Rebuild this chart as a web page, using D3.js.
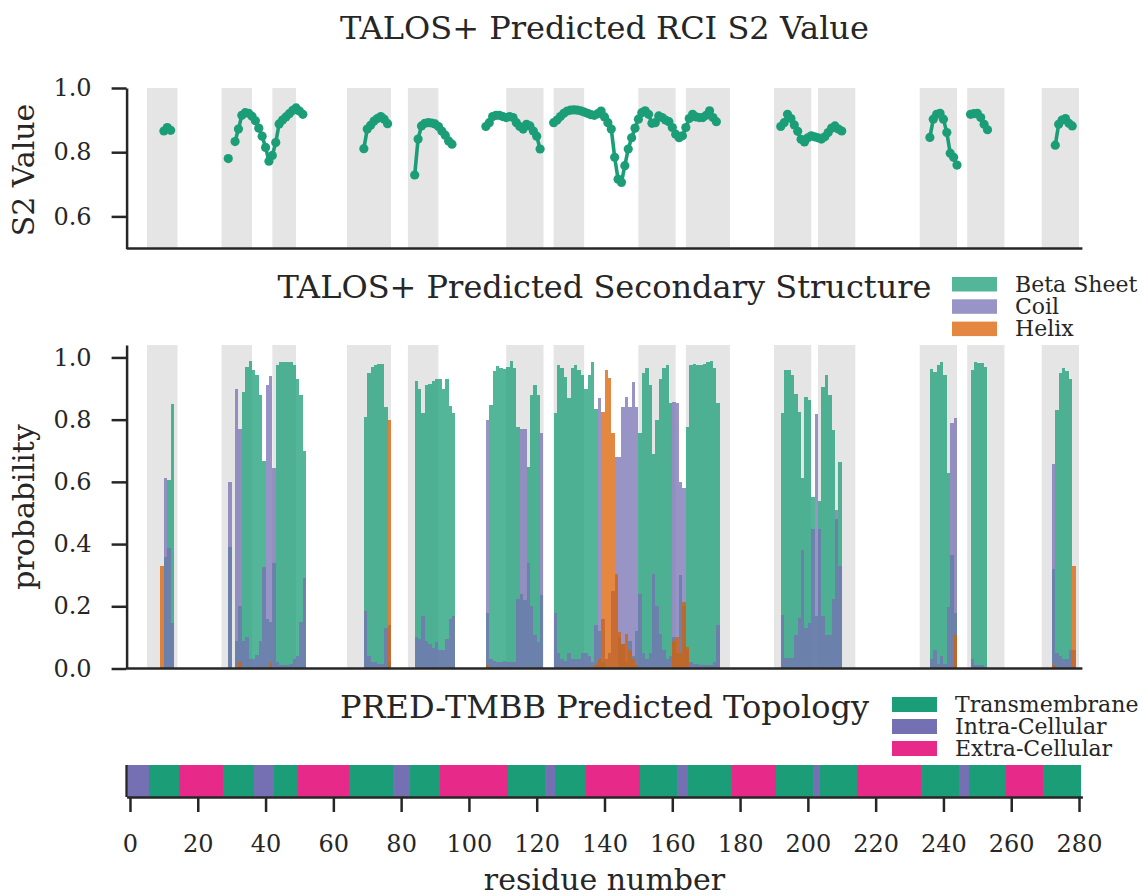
<!DOCTYPE html>
<html>
<head>
<meta charset="utf-8">
<script src="https://cdn.jsdelivr.net/npm/d3@7"></script>
<style>
  html, body { margin: 0; padding: 0; background: #ffffff; }
  svg { display: block; }
  text { font-family: "DejaVu Serif", serif; fill: #262626; }
</style>
</head>
<body>
<svg id="chart" width="1143" height="896"></svg>
<script>
// ---- TALOS+ order parameter (RCI S2) per residue ----
const s2Residue = [
  10, 11, 12,
  29,
  31, 32, 33, 34, 35, 36, 37, 38, 39, 40, 41, 42, 43, 44, 45, 46, 47, 48, 49, 50, 51,
  69, 70, 71, 72, 73, 74, 75, 76,
  84, 85, 86, 87, 88, 89, 90, 91, 92, 93, 94, 95,
  105, 106, 107, 108, 109, 110, 111, 112, 113, 114, 115, 116, 117, 118, 119, 120, 121,
  125, 126, 127, 128, 129, 130, 131, 132, 133, 134, 135, 136, 137, 138, 139, 140, 141, 142, 143, 144,
  145, 146, 147, 148, 149, 150, 151, 152, 153, 154, 155, 156, 157, 158, 159, 160, 161, 162, 163, 164,
  165, 166, 167, 168, 169, 170, 171, 172, 173,
  192, 193, 194, 195, 196, 197, 198, 199, 200, 201, 202, 203, 204, 205, 206, 207, 208, 209, 210,
  236, 237, 238, 239, 240, 241, 242, 243, 244,
  248, 249, 250, 251, 252, 253,
  273, 274, 275, 276, 277, 278
];
const s2Value = [
  0.866, 0.877, 0.868,
  0.780,
  0.833, 0.872, 0.915, 0.923, 0.921, 0.912, 0.898, 0.875, 0.850, 0.815, 0.772, 0.790, 0.830, 0.888, 0.900, 0.910, 0.920, 0.930, 0.938, 0.928, 0.918,
  0.811, 0.872, 0.884, 0.897, 0.905, 0.911, 0.903, 0.889,
  0.729, 0.841, 0.882, 0.890, 0.892, 0.891, 0.888, 0.880, 0.866, 0.853, 0.835, 0.825,
  0.880, 0.892, 0.911, 0.915, 0.915, 0.911, 0.908, 0.911, 0.908, 0.892, 0.880, 0.872, 0.887, 0.882, 0.866, 0.850, 0.810,
  0.892, 0.900, 0.911, 0.921, 0.928, 0.931, 0.932, 0.931, 0.929, 0.925, 0.921, 0.917, 0.915, 0.920, 0.928, 0.910, 0.892, 0.872, 0.784, 0.716,
  0.706, 0.758, 0.810, 0.845, 0.875, 0.903, 0.923, 0.929, 0.918, 0.890, 0.892, 0.913, 0.908, 0.900, 0.895, 0.877, 0.856, 0.845, 0.851, 0.877,
  0.905, 0.918, 0.910, 0.908, 0.908, 0.915, 0.929, 0.908, 0.895,
  0.880, 0.892, 0.918, 0.905, 0.885, 0.865, 0.840, 0.832, 0.845, 0.851, 0.848, 0.845, 0.841, 0.848, 0.861, 0.875, 0.882, 0.872, 0.866,
  0.846, 0.903, 0.918, 0.921, 0.903, 0.861, 0.797, 0.784, 0.760,
  0.918, 0.920, 0.921, 0.908, 0.887, 0.870,
  0.822, 0.887, 0.900, 0.905, 0.890, 0.882
];

// ---- TALOS+ secondary structure probabilities per residue ----
const ssResidue = [
  9, 10, 11, 12,
  29, 31, 32, 33, 34, 35, 36, 37, 38, 39, 40, 41, 42, 43, 44, 45, 46, 47, 48, 49, 50, 51,
  69, 70, 71, 72, 73, 74, 75, 76,
  84, 85, 86, 87, 88, 89, 90, 91, 92, 93, 94, 95,
  105, 106, 107, 108, 109, 110, 111, 112, 113, 114, 115, 116, 117, 118, 119, 120, 121,
  125, 126, 127, 128, 129, 130, 131, 132, 133, 134, 135, 136, 137, 138, 139, 140, 141, 142, 143, 144,
  145, 146, 147, 148, 149, 150, 151, 152, 153, 154, 155, 156, 157, 158, 159, 160, 161, 162, 163, 164,
  165, 166, 167, 168, 169, 170, 171, 172, 173,
  192, 193, 194, 195, 196, 197, 198, 199, 200, 201, 202, 203, 204, 205, 206, 207, 208, 209,
  236, 237, 238, 239, 240, 241, 242, 243,
  248, 249, 250, 251, 252,
  272, 273, 274, 275, 276, 277, 278
];
const betaProb = [
  0.00, 0.36, 0.607, 0.85,
  0.39, 0.09, 0.20, 0.89, 0.97, 0.988, 0.96, 0.945, 0.88, 0.667, 0.16, 0.15, 0.34, 0.977, 0.986, 0.986, 0.986, 0.985, 0.975, 0.93, 0.88, 0.70,
  0.81, 0.95, 0.97, 0.975, 0.98, 0.98, 0.84, 0.02,
  0.925, 0.90, 0.82, 0.91, 0.915, 0.925, 0.932, 0.93, 0.90, 0.93, 0.845, 0.82,
  0.18, 0.847, 0.955, 0.973, 0.967, 0.962, 0.97, 0.988, 0.965, 0.775, 0.24, 0.22, 0.648, 0.88, 0.913, 0.88, 0.236,
  0.82, 0.975, 0.967, 0.938, 0.87, 0.967, 0.977, 0.96, 0.945, 0.90, 0.945, 0.984, 0.834, 0.12, 0.02, 0.00, 0.00, 0.00, 0.00, 0.10,
  0.08, 0.02, 0.09, 0.04, 0.12, 0.756, 0.949, 0.965, 0.91, 0.69, 0.80, 0.932, 0.965, 0.977, 0.852, 0.10, 0.05, 0.30, 0.20, 0.777,
  0.975, 0.98, 0.977, 0.977, 0.98, 0.985, 0.988, 0.967, 0.852,
  0.822, 0.959, 0.959, 0.943, 0.881, 0.825, 0.611, 0.873, 0.863, 0.55, 0.17, 0.54, 0.906, 0.943, 0.879, 0.766, 0.482, 0.665,
  0.962, 0.952, 0.977, 0.986, 0.945, 0.627, 0.364, 0.18,
  0.959, 0.984, 0.982, 0.982, 0.97,
  0.32, 0.83, 0.949, 0.967, 0.956, 0.932, 0.00
];
const coilProb = [
  0.00, 0.613, 0.386, 0.145,
  0.60, 0.897, 0.77, 0.09, 0.10, 0.03, 0.03, 0.045, 0.09, 0.327, 0.91, 0.94, 0.645, 0.02, 0.01, 0.01, 0.01, 0.015, 0.03, 0.04, 0.15, 0.29,
  0.185, 0.04, 0.02, 0.02, 0.015, 0.015, 0.13, 0.14,
  0.10, 0.095, 0.17, 0.09, 0.08, 0.065, 0.085, 0.06, 0.06, 0.095, 0.16, 0.17,
  0.80, 0.03, 0.025, 0.02, 0.02, 0.025, 0.02, 0.02, 0.02, 0.225, 0.77, 0.77, 0.34, 0.20, 0.107, 0.086, 0.756,
  0.18, 0.05, 0.03, 0.025, 0.05, 0.03, 0.03, 0.03, 0.05, 0.05, 0.04, 0.02, 0.14, 0.87, 0.16, 0.03, 0.05, 0.25, 0.68, 0.68,
  0.84, 0.873, 0.84, 0.92, 0.84, 0.24, 0.05, 0.03, 0.05, 0.305, 0.20, 0.11, 0.06, 0.03, 0.04, 0.857, 0.852, 0.60, 0.58, 0.06,
  0.02, 0.015, 0.015, 0.01, 0.01, 0.01, 0.01, 0.02, 0.14,
  0.171, 0.034, 0.034, 0.034, 0.107, 0.163, 0.38, 0.129, 0.145, 0.45, 0.817, 0.45, 0.17, 0.107, 0.107, 0.225, 0.509, 0.33,
  0.032, 0.06, 0.016, 0.04, 0.016, 0.198, 0.788, 0.806,
  0.032, 0.01, 0.01, 0.01, 0.005,
  0.659, 0.05, 0.04, 0.03, 0.03, 0.06, 0.06
];
const helixProb = [
  0.33, 0.00, 0.00, 0.00,
  0.00, 0.00, 0.02, 0.00, 0.00, 0.00, 0.00, 0.00, 0.00, 0.00, 0.00, 0.02, 0.00, 0.00, 0.00, 0.00, 0.00, 0.00, 0.00, 0.00, 0.00, 0.00,
  0.00, 0.00, 0.00, 0.00, 0.00, 0.00, 0.00, 0.80,
  0.00, 0.00, 0.00, 0.00, 0.00, 0.00, 0.00, 0.00, 0.00, 0.00, 0.00, 0.00,
  0.01, 0.00, 0.00, 0.00, 0.00, 0.00, 0.00, 0.00, 0.00, 0.00, 0.00, 0.00, 0.00, 0.00, 0.00, 0.00, 0.00,
  0.00, 0.00, 0.00, 0.00, 0.00, 0.00, 0.00, 0.00, 0.00, 0.00, 0.00, 0.00, 0.01, 0.03, 0.823, 0.959, 0.935, 0.756, 0.305, 0.118,
  0.08, 0.11, 0.06, 0.03, 0.01, 0.00, 0.00, 0.00, 0.00, 0.00, 0.00, 0.00, 0.00, 0.00, 0.00, 0.09, 0.10, 0.05, 0.214, 0.07,
  0.00, 0.00, 0.00, 0.00, 0.00, 0.00, 0.00, 0.00, 0.00,
  0.00, 0.00, 0.00, 0.00, 0.00, 0.00, 0.00, 0.00, 0.00, 0.00, 0.00, 0.00, 0.00, 0.00, 0.00, 0.00, 0.00, 0.00,
  0.00, 0.00, 0.00, 0.00, 0.00, 0.00, 0.00, 0.109,
  0.00, 0.00, 0.00, 0.00, 0.00,
  0.01, 0.00, 0.00, 0.00, 0.00, 0.00, 0.33
];

// ---- shaded strand regions (residue spans) ----
const bandStart = [5, 27, 42, 64, 82, 111, 125, 150, 164, 190, 203, 233, 247, 269];
const bandEnd   = [14, 36, 49, 77, 91, 122, 134, 161, 177, 201, 214, 244, 258, 280];

// ---- PRED-TMBB topology segments ----
const topoStart = [0, 6, 15, 28, 37, 43, 50, 65, 78, 83, 92, 112, 123, 126, 135, 151, 162, 165, 178, 191, 202, 204, 215, 234, 245, 248, 259, 270];
const topoEnd   = [5, 14, 27, 36, 42, 49, 64, 77, 82, 91, 111, 122, 125, 134, 150, 161, 164, 177, 190, 201, 203, 214, 233, 244, 247, 258, 269, 280];
const topoClass = ["Intra-Cellular", "Transmembrane", "Extra-Cellular", "Transmembrane", "Intra-Cellular", "Transmembrane",
  "Extra-Cellular", "Transmembrane", "Intra-Cellular", "Transmembrane", "Extra-Cellular", "Transmembrane",
  "Intra-Cellular", "Transmembrane", "Extra-Cellular", "Transmembrane", "Intra-Cellular", "Transmembrane",
  "Extra-Cellular", "Transmembrane", "Intra-Cellular", "Transmembrane", "Extra-Cellular", "Transmembrane",
  "Intra-Cellular", "Transmembrane", "Extra-Cellular", "Transmembrane"];

// ---- labels and tick values ----
const ssNames = ["Beta Sheet", "Coil", "Helix"];
const topoNames = ["Transmembrane", "Intra-Cellular", "Extra-Cellular"];
const xTicks = [0, 20, 40, 60, 80, 100, 120, 140, 160, 180, 200, 220, 240, 260, 280];
const s2Ticks = [0.6, 0.8, 1.0];
const probTicks = [0.0, 0.2, 0.4, 0.6, 0.8, 1.0];

// ---- styling ----
const ssColor = { "Beta Sheet": "#1b9e77", "Coil": "#7570b3", "Helix": "#d95f02" };
const topoColor = { "Transmembrane": "#1b9e77", "Intra-Cellular": "#7570b3", "Extra-Cellular": "#e7298a" };
const ink = "#262626";
const bandFill = "#e5e5e5";
const tickFont = 24, labelFont = 30, titleFont = 32, legendFont = 22;

const svg = d3.select("#chart");
svg.append("rect").attr("width", 1143).attr("height", 896).attr("fill", "#fff");

const x = d3.scaleLinear().domain([-1, 281]).range([126.6, 1082.4]);
const yS2 = d3.scaleLinear().domain([0.5, 1.0]).range([248.5, 88]);
const yP = d3.scaleLinear().domain([0, 1.04]).range([668.5, 345]);
const topoTop = 765, topoBottom = 797;

function styleAxis(g) {
  g.selectAll("path.domain").attr("stroke", ink).attr("stroke-width", 2.5);
  g.selectAll(".tick line").attr("stroke", ink).attr("stroke-width", 2.5);
  g.selectAll(".tick text").attr("font-size", tickFont).attr("font-family", "DejaVu Serif").attr("fill", ink);
}

function bands(g, y0, y1) {
  g.selectAll("rect.band").data(bandStart.map((s, i) => [s, bandEnd[i]])).join("rect")
    .attr("class", "band")
    .attr("x", d => x(d[0])).attr("width", d => x(d[1]) - x(d[0]))
    .attr("y", y1).attr("height", y0 - y1)
    .attr("fill", bandFill);
}

// ===== Panel 1: S2 order parameter =====
const p1 = svg.append("g");
bands(p1, yS2.range()[0], yS2.range()[1]);

// split into runs of consecutive residues
const s2Points = s2Residue.map((r, i) => ({ r, v: s2Value[i] }));
const runs = [];
s2Points.forEach((p, i) => {
  if (i === 0 || p.r - s2Points[i - 1].r > 1) runs.push([]);
  runs[runs.length - 1].push(p);
});
const line = d3.line().x(d => x(d.r)).y(d => yS2(d.v));
p1.selectAll("path.run").data(runs).join("path")
  .attr("class", "run").attr("d", line)
  .attr("fill", "none").attr("stroke", "#1b9e77").attr("stroke-width", 3.6).attr("stroke-linejoin", "round");
p1.selectAll("circle").data(s2Points).join("circle")
  .attr("cx", d => x(d.r)).attr("cy", d => yS2(d.v)).attr("r", 4.6)
  .attr("fill", "#1b9e77");

const ax1 = p1.append("g").attr("transform", `translate(${x(-1)},0)`)
  .call(d3.axisLeft(yS2).tickValues(s2Ticks).tickFormat(d3.format(".1f")).tickSize(15).tickPadding(20).tickSizeOuter(0));
styleAxis(ax1);
p1.append("line").attr("x1", x(-1)).attr("x2", x(281)).attr("y1", yS2(0.5)).attr("y2", yS2(0.5))
  .attr("stroke", ink).attr("stroke-width", 2.5);

p1.append("text").attr("x", 604.5).attr("y", 39).attr("text-anchor", "middle")
  .attr("font-size", titleFont).text("TALOS+ Predicted RCI S2 Value");
p1.append("text").attr("transform", "translate(34,170) rotate(-90)").attr("text-anchor", "middle")
  .attr("font-size", labelFont).text("S2 Value");

// ===== Panel 2: secondary structure probabilities =====
const p2 = svg.append("g");
bands(p2, yP.range()[0], yP.range()[1]);

const ssSeries = [
  { name: "Beta Sheet", vals: betaProb },
  { name: "Coil", vals: coilProb },
  { name: "Helix", vals: helixProb }
];
ssSeries.forEach(s => {
  const data = ssResidue.map((r, i) => ({ r, v: s.vals[i] })).filter(d => d.v > 0);
  p2.append("g").attr("shape-rendering", "crispEdges")
    .selectAll("rect").data(data).join("rect")
    .attr("x", d => x(d.r)).attr("width", d => x(d.r + 1) - x(d.r))
    .attr("y", d => yP(d.v)).attr("height", d => yP(0) - yP(d.v))
    .attr("fill", ssColor[s.name]).attr("fill-opacity", 0.75);
});

const ax2 = p2.append("g").attr("transform", `translate(${x(-1)},0)`)
  .call(d3.axisLeft(yP).tickValues(probTicks).tickFormat(d3.format(".1f")).tickSize(15).tickPadding(20).tickSizeOuter(0));
styleAxis(ax2);
p2.append("line").attr("x1", x(-1)).attr("x2", x(281)).attr("y1", yP(0)).attr("y2", yP(0))
  .attr("stroke", ink).attr("stroke-width", 2.5);

p2.append("text").attr("x", 604.5).attr("y", 298).attr("text-anchor", "middle")
  .attr("font-size", titleFont).text("TALOS+ Predicted Secondary Structure");
p2.append("text").attr("transform", "translate(34,507) rotate(-90)").attr("text-anchor", "middle")
  .attr("font-size", labelFont).text("probability");

const leg2 = p2.append("g").attr("transform", "translate(952,277)");
ssNames.forEach((n, i) => {
  leg2.append("rect").attr("x", 0).attr("y", i * 22.3).attr("width", 45).attr("height", 14.5)
    .attr("fill", ssColor[n]).attr("fill-opacity", 0.75);
  leg2.append("text").attr("x", 63).attr("y", i * 22.3 + 14.5).attr("font-size", legendFont).text(n);
});

// ===== Panel 3: predicted topology =====
const p3 = svg.append("g");
const topoResidues = [];
topoStart.forEach((s, i) => {
  for (let r = s; r <= topoEnd[i]; r++) topoResidues.push({ r, c: topoClass[i] });
});
p3.append("g").attr("shape-rendering", "crispEdges")
  .selectAll("rect.res").data(topoResidues).join("rect")
  .attr("class", "res")
  .attr("x", d => x(d.r - 0.5)).attr("width", d => x(d.r + 0.5) - x(d.r - 0.5))
  .attr("y", topoTop).attr("height", topoBottom - topoTop)
  .attr("fill", d => topoColor[d.c]);

p3.append("line").attr("x1", x(-1)).attr("x2", x(-1)).attr("y1", topoTop).attr("y2", topoBottom)
  .attr("stroke", ink).attr("stroke-width", 2.5);
const ax3 = p3.append("g").attr("transform", `translate(0,${topoBottom})`)
  .call(d3.axisBottom(x).tickValues(xTicks).tickFormat(d3.format("d")).tickSize(15).tickPadding(23).tickSizeOuter(0));
styleAxis(ax3);

p3.append("text").attr("x", 604.5).attr("y", 718).attr("text-anchor", "middle")
  .attr("font-size", titleFont).text("PRED-TMBB Predicted Topology");
p3.append("text").attr("x", 604.5).attr("y", 890).attr("text-anchor", "middle")
  .attr("font-size", labelFont).text("residue number");

const leg3 = p3.append("g").attr("transform", "translate(892,697)");
topoNames.forEach((n, i) => {
  leg3.append("rect").attr("x", 0).attr("y", i * 22).attr("width", 45).attr("height", 15)
    .attr("fill", topoColor[n]);
  leg3.append("text").attr("x", 63).attr("y", i * 22 + 15).attr("font-size", legendFont).text(n);
});
</script>
</body>
</html>
